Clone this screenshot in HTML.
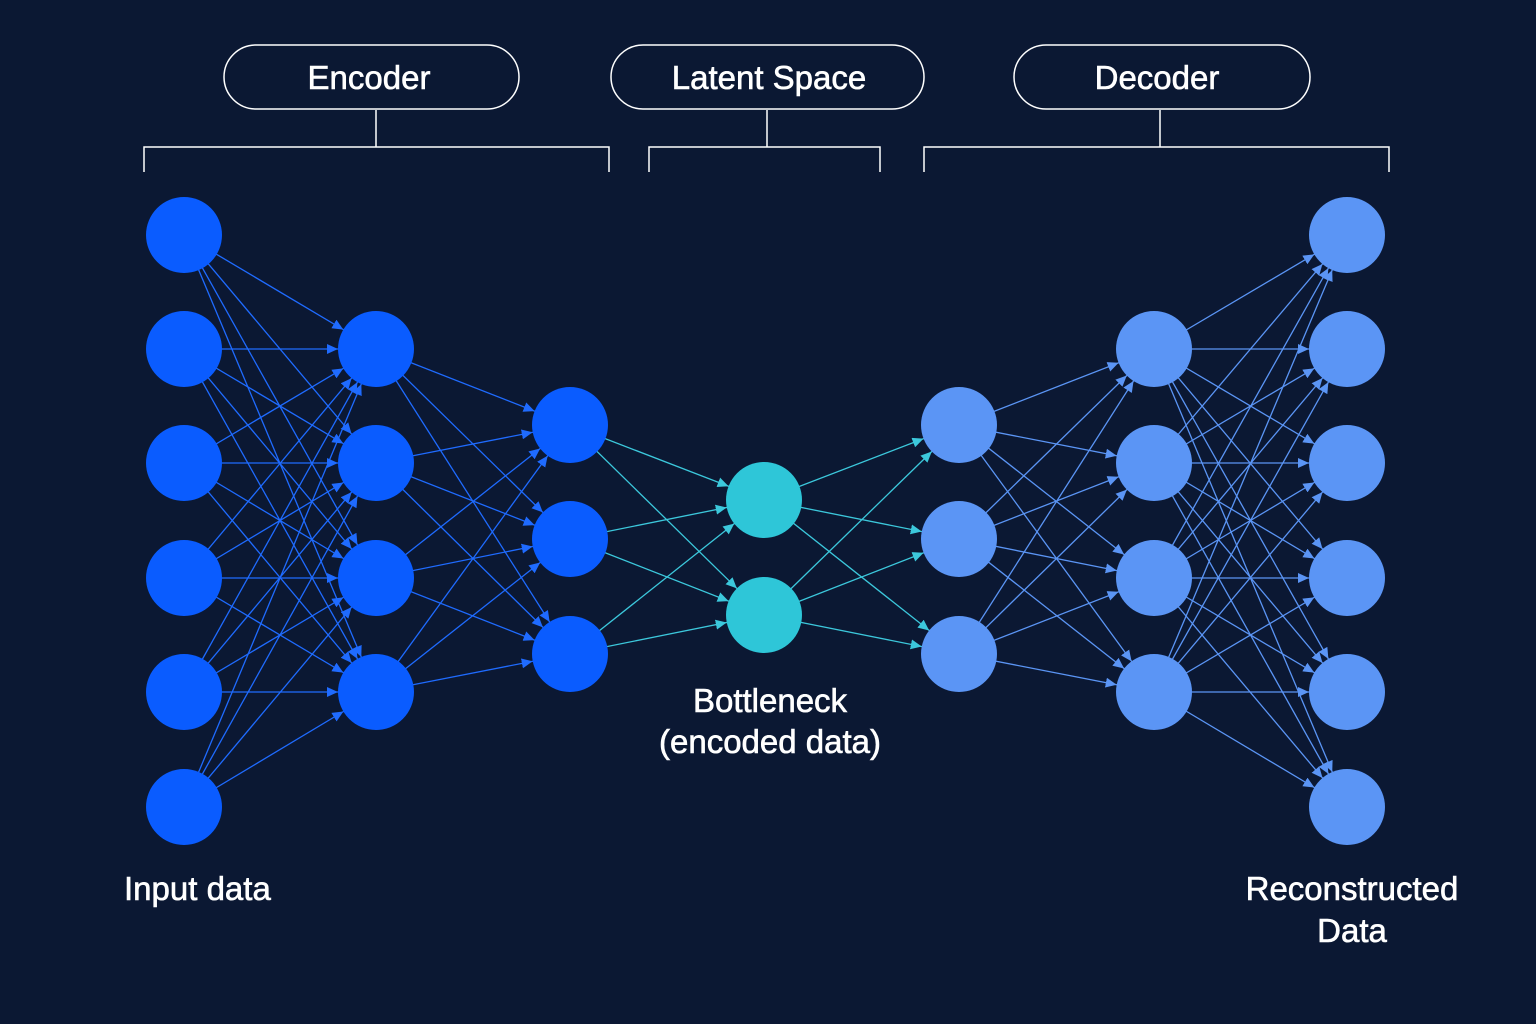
<!DOCTYPE html>
<html><head><meta charset="utf-8"><style>
html,body{margin:0;padding:0;background:#0b1833;}
svg{display:block}
text{font-family:"Liberation Sans","DejaVu Sans",sans-serif;fill:#fff;font-size:33px;stroke:#fff;stroke-width:0.6;}
</style></head><body>
<svg width="1536" height="1024" viewBox="0 0 1536 1024" xmlns="http://www.w3.org/2000/svg">
<rect width="1536" height="1024" fill="#0b1833"/>
<defs>
<marker id="a1" markerWidth="60" markerHeight="10" refX="49" refY="5" orient="auto" markerUnits="userSpaceOnUse"><path d="M0,0 L11,5 L0,10z" fill="#1f6bff"/></marker>
<marker id="a2" markerWidth="60" markerHeight="10" refX="49" refY="5" orient="auto" markerUnits="userSpaceOnUse"><path d="M0,0 L11,5 L0,10z" fill="#3cc8dc"/></marker>
<marker id="a3" markerWidth="60" markerHeight="10" refX="49" refY="5" orient="auto" markerUnits="userSpaceOnUse"><path d="M0,0 L11,5 L0,10z" fill="#5b95f5"/></marker>
</defs>
<g fill="none" stroke="#fff" stroke-width="1.5">
<rect x="224" y="45" width="295" height="64" rx="32"/>
<rect x="611" y="45" width="313" height="64" rx="32"/>
<rect x="1014" y="45" width="296" height="64" rx="32"/>
<path d="M376 110V147M144 172V147H609V172"/>
<path d="M767 110V147M649 172V147H880V172"/>
<path d="M1160 110V147M924 172V147H1389V172"/>
</g>
<text x="369" y="89" text-anchor="middle">Encoder</text>
<text x="769" y="89" text-anchor="middle">Latent Space</text>
<text x="1157" y="89" text-anchor="middle">Decoder</text>

<g stroke="#1f6bff" stroke-width="1.3" marker-end="url(#a1)">
<line x1="184" y1="235" x2="376" y2="349"/><line x1="184" y1="235" x2="376" y2="463"/><line x1="184" y1="235" x2="376" y2="578"/><line x1="184" y1="235" x2="376" y2="692"/>
<line x1="184" y1="349" x2="376" y2="349"/><line x1="184" y1="349" x2="376" y2="463"/><line x1="184" y1="349" x2="376" y2="578"/><line x1="184" y1="349" x2="376" y2="692"/>
<line x1="184" y1="463" x2="376" y2="349"/><line x1="184" y1="463" x2="376" y2="463"/><line x1="184" y1="463" x2="376" y2="578"/><line x1="184" y1="463" x2="376" y2="692"/>
<line x1="184" y1="578" x2="376" y2="349"/><line x1="184" y1="578" x2="376" y2="463"/><line x1="184" y1="578" x2="376" y2="578"/><line x1="184" y1="578" x2="376" y2="692"/>
<line x1="184" y1="692" x2="376" y2="349"/><line x1="184" y1="692" x2="376" y2="463"/><line x1="184" y1="692" x2="376" y2="578"/><line x1="184" y1="692" x2="376" y2="692"/>
<line x1="184" y1="807" x2="376" y2="349"/><line x1="184" y1="807" x2="376" y2="463"/><line x1="184" y1="807" x2="376" y2="578"/><line x1="184" y1="807" x2="376" y2="692"/>
<line x1="376" y1="349" x2="570" y2="425"/><line x1="376" y1="349" x2="570" y2="539"/><line x1="376" y1="349" x2="570" y2="654"/>
<line x1="376" y1="463" x2="570" y2="425"/><line x1="376" y1="463" x2="570" y2="539"/><line x1="376" y1="463" x2="570" y2="654"/>
<line x1="376" y1="578" x2="570" y2="425"/><line x1="376" y1="578" x2="570" y2="539"/><line x1="376" y1="578" x2="570" y2="654"/>
<line x1="376" y1="692" x2="570" y2="425"/><line x1="376" y1="692" x2="570" y2="539"/><line x1="376" y1="692" x2="570" y2="654"/>
</g>
<g stroke="#3cc8dc" stroke-width="1.3" marker-end="url(#a2)">
<line x1="570" y1="425" x2="764" y2="500"/><line x1="570" y1="425" x2="764" y2="615"/>
<line x1="570" y1="539" x2="764" y2="500"/><line x1="570" y1="539" x2="764" y2="615"/>
<line x1="570" y1="654" x2="764" y2="500"/><line x1="570" y1="654" x2="764" y2="615"/>
<line x1="764" y1="500" x2="959" y2="425"/><line x1="764" y1="500" x2="959" y2="539"/><line x1="764" y1="500" x2="959" y2="654"/>
<line x1="764" y1="615" x2="959" y2="425"/><line x1="764" y1="615" x2="959" y2="539"/><line x1="764" y1="615" x2="959" y2="654"/>
</g>
<g stroke="#5b95f5" stroke-width="1.3" marker-end="url(#a3)">
<line x1="959" y1="425" x2="1154" y2="349"/><line x1="959" y1="425" x2="1154" y2="463"/><line x1="959" y1="425" x2="1154" y2="578"/><line x1="959" y1="425" x2="1154" y2="692"/>
<line x1="959" y1="539" x2="1154" y2="349"/><line x1="959" y1="539" x2="1154" y2="463"/><line x1="959" y1="539" x2="1154" y2="578"/><line x1="959" y1="539" x2="1154" y2="692"/>
<line x1="959" y1="654" x2="1154" y2="349"/><line x1="959" y1="654" x2="1154" y2="463"/><line x1="959" y1="654" x2="1154" y2="578"/><line x1="959" y1="654" x2="1154" y2="692"/>
<line x1="1154" y1="349" x2="1347" y2="235"/><line x1="1154" y1="349" x2="1347" y2="349"/><line x1="1154" y1="349" x2="1347" y2="463"/><line x1="1154" y1="349" x2="1347" y2="578"/><line x1="1154" y1="349" x2="1347" y2="692"/><line x1="1154" y1="349" x2="1347" y2="807"/>
<line x1="1154" y1="463" x2="1347" y2="235"/><line x1="1154" y1="463" x2="1347" y2="349"/><line x1="1154" y1="463" x2="1347" y2="463"/><line x1="1154" y1="463" x2="1347" y2="578"/><line x1="1154" y1="463" x2="1347" y2="692"/><line x1="1154" y1="463" x2="1347" y2="807"/>
<line x1="1154" y1="578" x2="1347" y2="235"/><line x1="1154" y1="578" x2="1347" y2="349"/><line x1="1154" y1="578" x2="1347" y2="463"/><line x1="1154" y1="578" x2="1347" y2="578"/><line x1="1154" y1="578" x2="1347" y2="692"/><line x1="1154" y1="578" x2="1347" y2="807"/>
<line x1="1154" y1="692" x2="1347" y2="235"/><line x1="1154" y1="692" x2="1347" y2="349"/><line x1="1154" y1="692" x2="1347" y2="463"/><line x1="1154" y1="692" x2="1347" y2="578"/><line x1="1154" y1="692" x2="1347" y2="692"/><line x1="1154" y1="692" x2="1347" y2="807"/>
</g>

<g fill="#0a5cff">
<circle cx="184" cy="235" r="38"/><circle cx="184" cy="349" r="38"/><circle cx="184" cy="463" r="38"/><circle cx="184" cy="578" r="38"/><circle cx="184" cy="692" r="38"/><circle cx="184" cy="807" r="38"/>
<circle cx="376" cy="349" r="38"/><circle cx="376" cy="463" r="38"/><circle cx="376" cy="578" r="38"/><circle cx="376" cy="692" r="38"/>
<circle cx="570" cy="425" r="38"/><circle cx="570" cy="539" r="38"/><circle cx="570" cy="654" r="38"/>
</g>
<g fill="#2ec6d8"><circle cx="764" cy="500" r="38"/><circle cx="764" cy="615" r="38"/></g>
<g fill="#5b95f5">
<circle cx="959" cy="425" r="38"/><circle cx="959" cy="539" r="38"/><circle cx="959" cy="654" r="38"/>
<circle cx="1154" cy="349" r="38"/><circle cx="1154" cy="463" r="38"/><circle cx="1154" cy="578" r="38"/><circle cx="1154" cy="692" r="38"/>
<circle cx="1347" cy="235" r="38"/><circle cx="1347" cy="349" r="38"/><circle cx="1347" cy="463" r="38"/><circle cx="1347" cy="578" r="38"/><circle cx="1347" cy="692" r="38"/><circle cx="1347" cy="807" r="38"/>
</g>

<text x="124" y="900">Input data</text>
<text x="770" y="712" text-anchor="middle">Bottleneck</text>
<text x="770" y="753" text-anchor="middle">(encoded data)</text>
<text x="1352" y="900" text-anchor="middle">Reconstructed</text>
<text x="1352" y="942" text-anchor="middle">Data</text>
</svg>
</body></html>
